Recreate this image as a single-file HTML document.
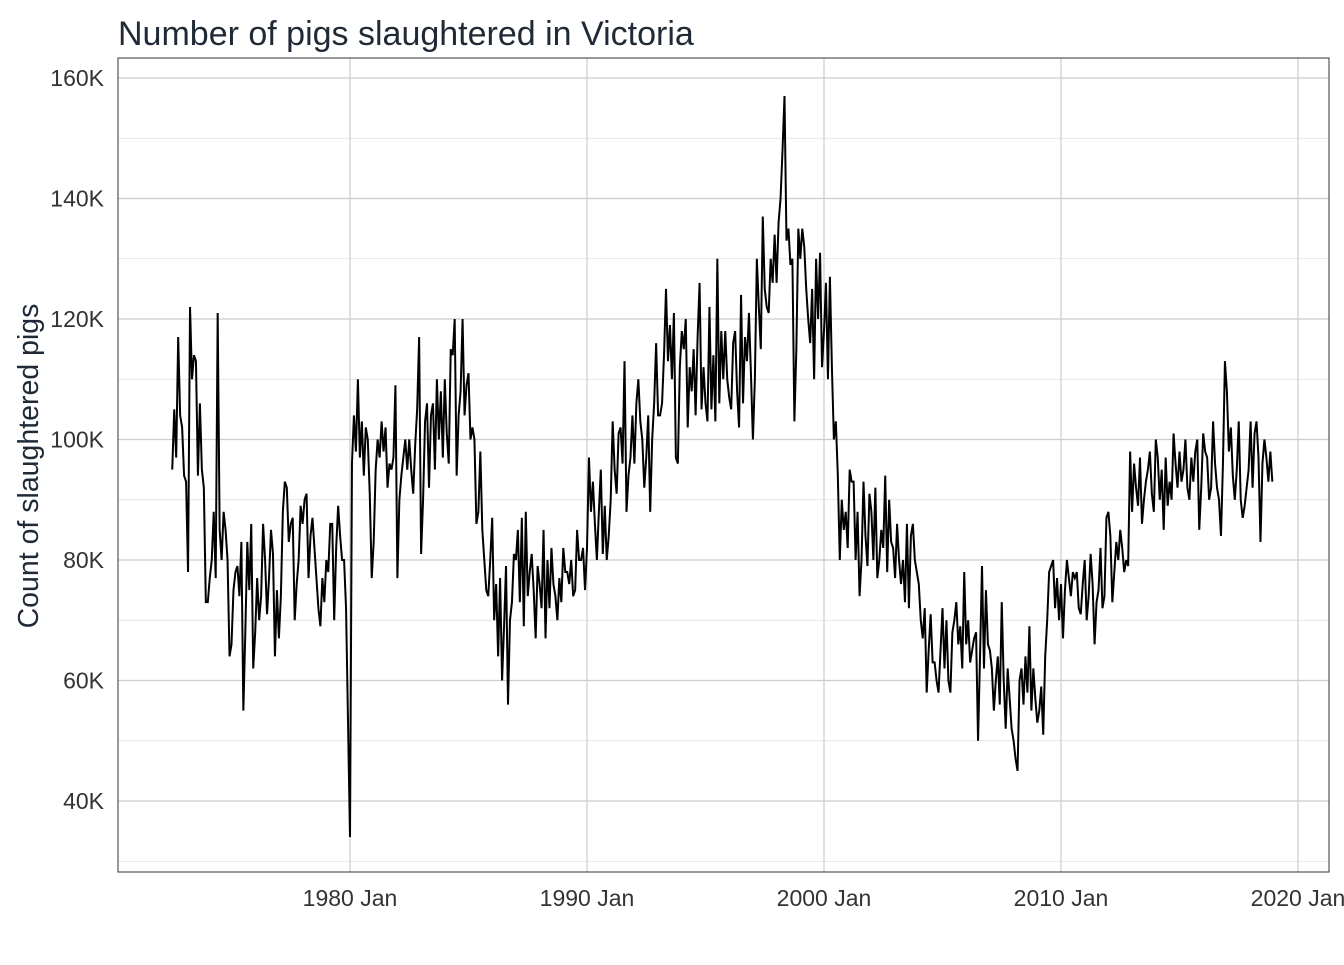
<!DOCTYPE html>
<html><head><meta charset="utf-8"><style>
body{margin:0;background:#fff;font-family:"Liberation Sans",sans-serif}
</style></head><body>
<svg id="chart" width="1344" height="960" xmlns="http://www.w3.org/2000/svg">
<text x="118" y="45" font-size="34" fill="#1f2a36" font-family="Liberation Sans, sans-serif">Number of pigs slaughtered in Victoria</text>
<text transform="translate(38,466) rotate(-90)" text-anchor="middle" font-size="28.5" fill="#1f2a36" font-family="Liberation Sans, sans-serif">Count of slaughtered pigs</text>
<g id="grid"></g>
<g id="axes"></g>
<path id="line" fill="none" stroke="#000" stroke-width="2"/>
<rect x="118" y="58" width="1211" height="814" fill="none" stroke="#333" stroke-width="1"/>
</svg>
<script>
const startYear = 1972, startMonth = 7;
const values = [
95,105,97,117,104,102,
94,93,78,122,110,114,113,94,106,95,92,73,
73,77,80,88,77,121,85,80,88,85,80,64,
66,75,78,79,74,83,55,68,83,75,86,62,
68,77,70,74,86,80,71,77,85,81,64,75,
67,74,88,93,92,83,86,87,70,76,80,89,
86,90,91,77,84,87,82,77,72,69,77,73,
80,78,86,86,70,82,89,84,80,80,72,53,
34,96,104,98,110,97,103,94,102,100,91,77,
83,95,100,97,103,98,102,92,96,95,97,109,
77,90,94,97,100,95,100,95,91,99,105,117,
81,90,103,106,92,104,106,95,110,100,108,97,
110,101,96,115,114,120,94,104,108,120,104,109,
111,100,102,100,86,88,98,85,80,75,74,80,
87,70,76,64,77,60,69,79,56,70,73,81,
80,85,73,87,69,88,74,78,81,75,67,79,
76,72,85,67,80,72,82,76,74,70,77,73,
82,78,78,76,80,74,75,85,80,80,82,75,
82,97,88,93,86,80,88,95,81,89,80,84,
90,103,95,91,101,102,96,113,88,94,97,104,
96,106,110,103,100,92,97,104,88,100,106,116,
104,104,106,114,125,113,119,110,121,97,96,112,
118,115,120,102,112,108,115,104,117,126,105,112,
106,103,122,105,114,103,130,106,118,110,118,110,
107,105,116,118,108,102,124,106,117,113,121,111,
100,110,130,122,115,137,125,122,121,130,126,134,
126,136,140,148,157,133,135,129,130,103,115,135,
130,135,132,125,120,116,125,110,130,120,131,112,
118,126,110,127,112,100,103,94,80,90,85,88,
82,95,93,93,80,88,74,80,93,84,79,91,
88,80,92,77,80,85,82,94,78,90,83,82,
77,86,80,76,80,73,86,72,84,86,80,78,
76,70,67,72,58,65,71,63,63,60,58,65,
72,62,70,60,58,68,70,73,66,69,62,78,
66,70,63,65,67,68,50,64,79,62,75,66,
65,62,55,60,64,56,73,60,52,62,57,52,
50,47,45,60,62,56,64,58,69,55,62,57,
53,55,59,51,64,70,78,79,80,72,77,70,
76,67,75,80,77,74,78,77,78,72,71,76,
80,70,74,81,76,66,73,75,82,72,74,87,
88,84,73,78,83,80,85,82,78,80,79,98,
88,96,92,89,97,86,90,93,95,98,91,88,
100,97,90,95,85,97,89,93,90,101,96,92,
98,93,95,100,92,90,97,93,98,100,85,92,
101,98,97,90,92,103,96,92,90,84,96,113,
108,98,102,94,90,95,103,90,87,89,92,95,
103,92,101,103,97,83,96,100,97,93,98,93
];
const yTicks = [40,60,80,100,120,140,160];
const yMinor = [30,50,70,90,110,130,150];
const xTicks = [1980,1990,2000,2010,2020];

const x = t => 350 + (t - 1980) * 23.7;
const y = v => 801 - (v - 40) * 6.025;
const NS = "http://www.w3.org/2000/svg";
const grid = document.getElementById('grid'), axes = document.getElementById('axes');
function ln(x1,y1,x2,y2,c,w,name){
  const l=document.createElementNS(NS,'line');
  l.setAttribute('x1',x1);l.setAttribute('y1',y1);l.setAttribute('x2',x2);l.setAttribute('y2',y2);
  l.setAttribute('stroke',c);l.setAttribute('stroke-width',w);
  
  
  grid.appendChild(l);
}
yMinor.forEach(v=>ln(118,y(v),1329,y(v),'#dedede',0.8,'y-minor-gridline'));
yTicks.forEach(v=>{
  ln(118,y(v),1329,y(v),'#cccccc',1.2,'y-major-gridline');
  const t=document.createElementNS(NS,'text');
  t.setAttribute('x',104);t.setAttribute('y',y(v)+8);t.setAttribute('text-anchor','end');
  t.setAttribute('font-size','23');t.setAttribute('fill','#333333');
  t.textContent=v+'K';
  
  
  axes.appendChild(t);
});
xTicks.forEach(v=>{
  ln(x(v),58,x(v),872,'#cccccc',1.2,'x-major-gridline');
  const t=document.createElementNS(NS,'text');
  t.setAttribute('x',x(v));t.setAttribute('y',906);t.setAttribute('text-anchor','middle');
  t.setAttribute('font-size','23');t.setAttribute('fill','#333333');
  t.textContent=v+' Jan';
  
  
  axes.appendChild(t);
});
let d='';
values.forEach((v,i)=>{
  const t = startYear + (startMonth-1+i)/12;
  d += (i?'L':'M') + x(t).toFixed(2) + ',' + y(v).toFixed(2);
});
document.getElementById('line').setAttribute('d',d);
</script>
</body></html>
